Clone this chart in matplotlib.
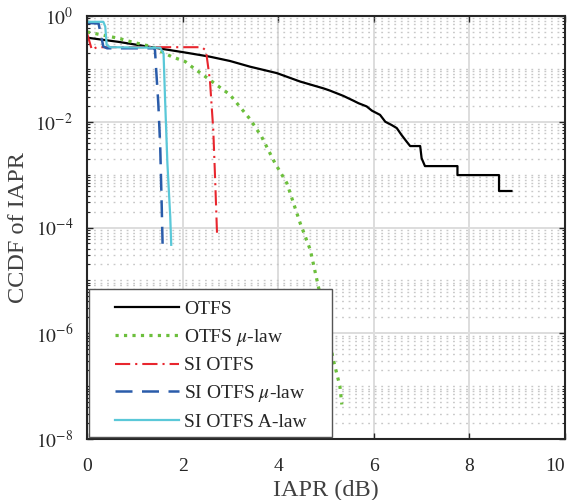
import matplotlib
matplotlib.use("Agg")
import matplotlib.pyplot as plt
from matplotlib.ticker import FixedLocator, NullFormatter
from matplotlib.patches import Rectangle
import numpy as np

plt.rcParams['font.family'] = ['Liberation Serif', 'DejaVu Serif']
plt.rcParams['mathtext.fontset'] = 'stix'

# ---- data (x in dB, y = CCDF) ----
otfs_x = [0, 0.66, 1.35, 2.05, 2.57, 2.99, 3.41, 3.97, 4.46, 4.95, 5.08, 5.36,
          5.57, 5.68, 5.85, 5.96, 6.13, 6.24, 6.37, 6.48, 6.58, 6.69, 6.76,
          6.97, 7.0, 7.07, 7.75, 7.75, 8.62, 8.62, 8.88]
otfs_y = [0.389, 0.324, 0.257, 0.204, 0.170, 0.141, 0.110, 0.0832, 0.0575,
          0.0427, 0.0389, 0.0309, 0.0251, 0.0224, 0.0195, 0.0162, 0.0135,
          0.0100, 0.0087, 0.00759, 0.00562, 0.00417, 0.00347, 0.00347,
          0.00204, 0.00145, 0.00145, 0.00098, 0.00098, 0.00049, 0.00049]

otfs_mu_x = [0, 0.65, 0.93, 1.35, 1.77, 2.05, 2.19, 2.57, 2.99, 3.41, 3.65,
             3.93, 4.18, 4.46, 4.67, 4.84, 5.0, 5.15, 5.29, 5.33]
otfs_mu_y = [0.50, 0.380, 0.324, 0.263, 0.170, 0.138, 0.110, 0.0617, 0.0324,
             0.0112, 0.00525, 0.00166, 6.9e-4, 1.2e-4, 3.8e-5, 7.6e-6,
             1.6e-6, 3.2e-7, 1.0e-7, 4.5e-8]

si_x = [0, 0.1, 0.2, 2.40, 2.47, 2.50, 2.57, 2.64, 2.68, 2.72]
si_y = [0.468, 0.229, 0.257, 0.257, 0.229, 0.182, 0.0617, 0.00708, 7.9e-4,
        7.2e-5]

si_mu_x = [0, 0.24, 0.34, 0.42, 1.40, 1.42, 1.45, 1.49, 1.53, 1.56, 1.58]
si_mu_y = [0.74, 0.72, 0.263, 0.245, 0.245, 0.229, 0.083, 0.0224, 0.0034,
           2.9e-4, 4.7e-5]

si_a_x = [0, 0.34, 0.38, 0.41, 0.48, 1.53, 1.60, 1.63, 1.68, 1.74, 1.76]
si_a_y = [0.776, 0.776, 0.63, 0.282, 0.257, 0.251, 0.195, 0.0295, 0.00166,
          1.6e-4, 4.7e-5]

labels = ['OTFS', r'OTFS $\mu$-law', 'SI OTFS', r'SI OTFS $\mu$-law',
          'SI OTFS A-law']
ytick_vals = [1e0, 1e-2, 1e-4, 1e-6, 1e-8]
ytick_text = [r'$10^{0}$', r'$10^{-2}$', r'$10^{-4}$', r'$10^{-6}$',
              r'$10^{-8}$']

axcol = '#262626'

fig = plt.figure(figsize=(5.73, 5.0), dpi=100)
ax = fig.add_axes([0.152, 0.122, 0.834, 0.846])

ax.plot(otfs_x, otfs_y, color='black', lw=1.6, label=labels[0])
ax.plot(otfs_mu_x, otfs_mu_y, color='#6cbf3c', lw=2.3, ls=':',
        label=labels[1])
ax.plot(si_x, si_y, color='#e8262e', lw=1.5, dashes=(7.3, 2.4, 1, 2.4),
        label=labels[2])
ax.plot(si_mu_x, si_mu_y, color='#2a5caa', lw=1.8, dashes=(6.8, 3.8),
        label=labels[3])
ax.plot(si_a_x, si_a_y, color='#5ac8d8', lw=1.6, label=labels[4])

ax.set_yscale('log')
ax.set_xlim(0, 10)
ax.set_ylim(1e-8, 1e0)
ax.set_xticks([0, 2, 4, 6, 8, 10])
ax.yaxis.set_major_locator(FixedLocator(ytick_vals))
ax.set_yticklabels(ytick_text)
minor = [k * 10.0 ** d for d in range(-8, 0) for k in range(1, 10)
         if not (k == 1 and d % 2 == 0)]
ax.yaxis.set_minor_locator(FixedLocator(minor))
ax.yaxis.set_minor_formatter(NullFormatter())

ax.grid(True, which='major', color='#dddddd', lw=1.4, ls='-')
ax.grid(True, which='minor', axis='y', color='#c8c8c8', lw=1.0,
        ls=(0, (1.3, 3.4)))
ax.set_axisbelow(True)

for s in ax.spines.values():
    s.set_color(axcol)
    s.set_linewidth(1.5)
ax.tick_params(which='both', direction='in', top=True, right=True,
               colors=axcol, labelsize=14)
ax.tick_params(which='major', length=4, width=1)
ax.tick_params(which='minor', length=2, width=0.8)
ax.tick_params(axis='y', pad=10)
ax.tick_params(axis='x', pad=14)
ax.get_xticklabels()[-1].set_horizontalalignment('right')

ax.set_xlabel('IAPR (dB)', fontsize=17.5, color='#404040', labelpad=3)
ax.set_ylabel('CCDF of IAPR', fontsize=17.5, color='#404040', labelpad=5)

# legend box drawn by hand to get the wide left margin
ax.add_patch(Rectangle((0.004, 0.005), 0.508, 0.35, transform=ax.transAxes,
                       facecolor='white', edgecolor='#555555', lw=1.0,
                       zorder=5))
leg = ax.legend(loc='upper left', bbox_to_anchor=(0.0586, 0.327),
                frameon=False, fontsize=14, handlelength=3.3,
                handletextpad=0.25, labelspacing=0.45, borderpad=0,
                borderaxespad=0)
leg.set_zorder(6)
for t in leg.get_texts():
    t.set_color(axcol)

fig.savefig('out.png', dpi=100)
